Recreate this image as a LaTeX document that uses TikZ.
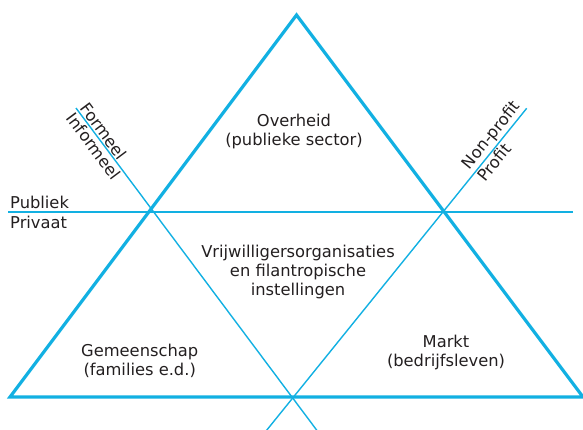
\documentclass[tikz,border=0pt]{standalone}
\usepackage{fontspec}
\setmainfont{DejaVu Sans}
\usetikzlibrary{positioning,calc}
\definecolor{lijnblauw}{RGB}{18,176,226}
\definecolor{tekst}{RGB}{35,31,32}

\begin{document}
\begin{tikzpicture}[
    x=1pt, y=-1pt,
    rand/.style={draw=lijnblauw, line width=3.2pt},
    grens/.style={draw=lijnblauw, line width=1.4pt},
    vak/.style={align=center, inner sep=0pt, text=tekst, font=\fontsize{16.3}{19}\selectfont},
    as/.style={inner sep=2pt, text=tekst, font=\fontsize{16.3}{19}\selectfont}
]
\useasboundingbox (0,0) rectangle (583,429);

% Triangle corners
\coordinate (top) at (296.5,15);
\coordinate (links) at (10,397);
\coordinate (rechts) at (583,397);

% Dividing lines
\coordinate (publiek_l) at (8,212);
\coordinate (publiek_r) at (573,212);
\coordinate (formeel_t) at (76,108);
\coordinate (kruis) at (292.7,398);
\coordinate (profit_t) at (526.7,108.3);

\draw[grens, line width=1.7pt] (publiek_l) -- (publiek_r);
\draw[grens] (formeel_t) -- ($(formeel_t)!1.12!(kruis)$);
\draw[grens] (profit_t) -- ($(profit_t)!1.12!(kruis)$);

% Outer triangle
\draw[rand] (top) -- (links) -- (rechts) -- cycle;

% Labels on the dividing lines
\node[as, anchor=base west] (publiek) at (8,208.3) {Publiek};
\node[as, anchor=base west] (privaat) at (8,228.3) {Privaat};

\node[as, rotate=-53.2, anchor=south west] (formeel) at (formeel_t) {Formeel};
\node[as, rotate=-53.2, anchor=north west] (informeel) at (formeel_t) {Informeel};

\node[as, rotate=51.1, anchor=south east] (nonprofit) at (profit_t) {Non-profit};
\node[as, rotate=51.1, anchor=north west] (profit) at (nonprofit.south west) {Profit};

% Sectors
\node[vak, anchor=north] (overheid) at (294,114) {Overheid\\(publieke sector)};

\node[vak, anchor=north] (vrijwillig) at (298,244.5) {Vrijwilligersorganisaties\\en filantropische\\instellingen};

\node[vak, anchor=north] (gemeenschap) at (139.7,343.8) {Gemeenschap\\(families e.d.)};

\node[vak, anchor=north] (markt) at (446,334.8) {Markt\\(bedrijfsleven)};

\end{tikzpicture}
\end{document}
